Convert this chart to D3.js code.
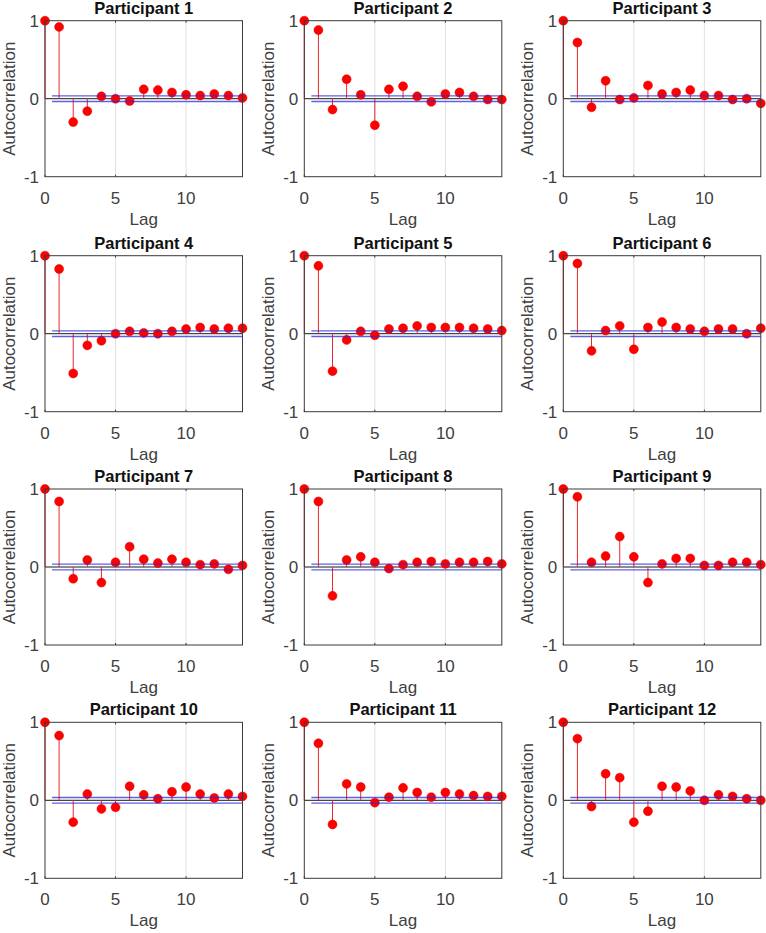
<!DOCTYPE html>
<html>
<head>
<meta charset="utf-8">
<script src="https://cdn.jsdelivr.net/npm/d3@7"></script>
<style>
  html, body { margin: 0; padding: 0; background: #fff; }
  svg { display: block; font-family: "Liberation Sans", Arial, Helvetica, sans-serif; }
</style>
</head>
<body>
<svg id="chart" width="766" height="933"></svg>
<script>
// ---- data ----
const lags = [0, 1, 2, 3, 4, 5, 6, 7, 8, 9, 10, 11, 12, 13, 14];
const titles = ["Participant 1", "Participant 2", "Participant 3", "Participant 4",
                "Participant 5", "Participant 6", "Participant 7", "Participant 8",
                "Participant 9", "Participant 10", "Participant 11", "Participant 12"];
const p1  = [1, 0.92, -0.30, -0.16, 0.03, 0.00, -0.03, 0.12, 0.11, 0.08, 0.05, 0.04, 0.06, 0.04, 0.01];
const p2  = [1, 0.88, -0.14, 0.25, 0.05, -0.34, 0.12, 0.16, 0.03, -0.04, 0.06, 0.08, 0.03, -0.01, -0.01];
const p3  = [1, 0.72, -0.11, 0.23, -0.01, 0.01, 0.17, 0.06, 0.08, 0.11, 0.04, 0.04, -0.01, 0.00, -0.06];
const p4  = [1, 0.83, -0.51, -0.15, -0.09, 0.00, 0.03, 0.01, 0.00, 0.03, 0.06, 0.08, 0.06, 0.07, 0.07];
const p5  = [1, 0.87, -0.48, -0.08, 0.03, -0.02, 0.06, 0.07, 0.10, 0.08, 0.08, 0.08, 0.07, 0.06, 0.04];
const p6  = [1, 0.90, -0.22, 0.04, 0.10, -0.20, 0.08, 0.15, 0.08, 0.06, 0.03, 0.06, 0.06, 0.00, 0.07];
const p7  = [1, 0.84, -0.15, 0.09, -0.20, 0.06, 0.26, 0.10, 0.05, 0.10, 0.06, 0.03, 0.04, -0.03, 0.02];
const p8  = [1, 0.84, -0.37, 0.09, 0.13, 0.06, -0.02, 0.03, 0.06, 0.07, 0.04, 0.06, 0.06, 0.07, 0.04];
const p9  = [1, 0.90, 0.06, 0.14, 0.39, 0.13, -0.20, 0.04, 0.11, 0.11, 0.02, 0.02, 0.06, 0.06, 0.03];
const p10 = [1, 0.83, -0.28, 0.08, -0.11, -0.09, 0.18, 0.07, 0.02, 0.11, 0.17, 0.08, 0.03, 0.08, 0.05];
const p11 = [1, 0.73, -0.31, 0.21, 0.17, -0.03, 0.04, 0.16, 0.10, 0.04, 0.10, 0.08, 0.06, 0.05, 0.05];
const p12 = [1, 0.79, -0.08, 0.34, 0.29, -0.28, -0.14, 0.18, 0.17, 0.12, 0.00, 0.07, 0.05, 0.02, 0.00];
const series = [p1, p2, p3, p4, p5, p6, p7, p8, p9, p10, p11, p12];
const confBound = 0.036;
const xTicks = [0, 5, 10];
const yTicks = [-1, 0, 1];

// ---- layout ----
const colLeft = [45, 304.3, 563.3];
const rowTop = [20.7, 255.7, 489, 722.3];
const pw = 197.5, ph = 156;

const svg = d3.select("#chart");
const textCol = "#404040";

series.forEach((vals, i) => {
  const col = i % 3, row = Math.floor(i / 3);
  const g = svg.append("g").attr("transform", `translate(${colLeft[col]},${rowTop[row]})`);
  const x = d3.scaleLinear().domain([0, 14]).range([0, pw]);
  const y = d3.scaleLinear().domain([-1, 1]).range([ph, 0]);

  g.append("rect").attr("width", pw).attr("height", ph).attr("fill", "#fff");

  // vertical grid
  g.selectAll(".grid").data(xTicks.filter(t => t > 0)).enter().append("line")
    .attr("x1", d => x(d)).attr("x2", d => x(d))
    .attr("y1", 0).attr("y2", ph)
    .attr("stroke", "#e0e0e0").attr("stroke-width", 1);

  // zero line
  g.append("line").attr("x1", 0).attr("x2", pw)
    .attr("y1", y(0)).attr("y2", y(0))
    .attr("stroke", "#1a1a1a").attr("stroke-width", 1);

  // stems
  g.selectAll(".stem").data(lags).enter().append("line")
    .attr("x1", d => x(d)).attr("x2", d => x(d))
    .attr("y1", y(0)).attr("y2", d => y(vals[d]))
    .attr("stroke", "#e8292c").attr("stroke-width", 1);

  // markers
  g.selectAll(".mk").data(lags).enter().append("circle")
    .attr("cx", d => x(d)).attr("cy", d => y(vals[d]))
    .attr("r", 4.5).attr("fill", "#ff0000").attr("stroke", "#e00000").attr("stroke-width", 0.5);

  // confidence bounds
  [confBound, -confBound].forEach(b => {
    g.append("line").attr("x1", x(0.5)).attr("x2", x(14))
      .attr("y1", y(b)).attr("y2", y(b))
      .attr("stroke", "#2b2bd6").attr("stroke-width", 1.3).attr("stroke-opacity", 0.75);
  });

  // box
  g.append("rect").attr("width", pw).attr("height", ph)
    .attr("fill", "none").attr("stroke", "#3a3a3a").attr("stroke-width", 1);

  // inner ticks
  xTicks.forEach(t => {
    g.append("line").attr("x1", x(t)).attr("x2", x(t)).attr("y1", ph).attr("y2", ph - 2).attr("stroke", "#3a3a3a");
    g.append("line").attr("x1", x(t)).attr("x2", x(t)).attr("y1", 0).attr("y2", 2).attr("stroke", "#3a3a3a");
  });

  // x tick labels
  g.selectAll(".xt").data(xTicks).enter().append("text")
    .attr("x", d => x(d)).attr("y", ph + 27)
    .attr("text-anchor", "middle").attr("font-size", 17).attr("fill", textCol)
    .text(d => d);

  // y tick labels
  g.selectAll(".yt").data(yTicks).enter().append("text")
    .attr("x", -6).attr("y", d => y(d))
    .attr("dy", "0.36em")
    .attr("text-anchor", "end").attr("font-size", 17).attr("fill", textCol)
    .text(d => d);

  // x label
  g.append("text").attr("x", pw / 2).attr("y", ph + 48)
    .attr("text-anchor", "middle").attr("font-size", 17).attr("fill", textCol)
    .text("Lag");

  // y label
  g.append("text")
    .attr("transform", `translate(-30,${ph / 2}) rotate(-90)`)
    .attr("text-anchor", "middle").attr("font-size", 17).attr("fill", textCol)
    .text("Autocorrelation");

  // title
  g.append("text").attr("x", pw / 2).attr("y", -7)
    .attr("text-anchor", "middle").attr("font-size", 16.5).attr("font-weight", "bold")
    .attr("fill", "#111")
    .text(titles[i]);
});
</script>
</body>
</html>
